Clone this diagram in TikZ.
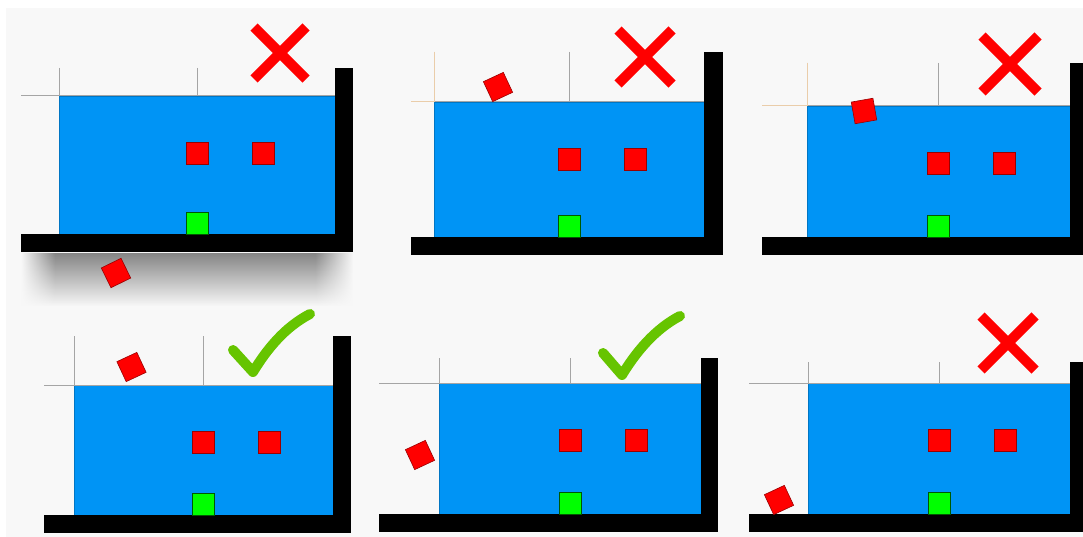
\documentclass[tikz,border=0pt]{standalone}
\usetikzlibrary{fadings}
\definecolor{bg}{HTML}{F8F8F8}
\definecolor{water}{RGB}{0,148,245}
\definecolor{redsq}{RGB}{255,0,0}
\definecolor{greensq}{RGB}{0,255,0}
\definecolor{okgreen}{RGB}{102,196,0}
\definecolor{guide}{RGB}{165,165,165}
\definecolor{tanline}{RGB}{234,205,170}
\tikzfading[name=fadedown, top color=transparent!0, middle color=transparent!65, bottom color=transparent!100]
\tikzfading[name=fadetoright, left color=transparent!0, right color=transparent!100]
\tikzfading[name=fadetoleft, left color=transparent!100, right color=transparent!0]
\tikzset{
  waterbox/.style={fill=water, draw=water!80!black, line width=0.5pt},
  guideline/.style={draw=guide, line width=1pt},
  tanguide/.style={draw=tanline, line width=1pt},
  sq/.style={minimum size=22pt, inner sep=0pt, outer sep=0pt, line width=0.6pt},
  redbox/.style={sq, fill=redsq, draw=red!60!black},
  greenbox/.style={sq, fill=greensq, draw=green!35!black},
  cross/.style={draw=redsq, line width=10pt},
  tick/.style={draw=okgreen, line width=10pt, line cap=round, line join=round},
}
% #1 name, #2 floor left, #3 water left, #4 water right, #5 water top,
% #6 water bottom, #7 wall right, #8 wall top, #9 centre column x
\newcommand\tankpanel[9]{%
  \path[waterbox] (#3,#5) rectangle (#4,#6);
  \draw[guideline] (#2,#5) -- (#4,#5);
  \draw[guideline] (#3,#8) -- (#3,#5);
  \draw[guideline] (#9,#8) -- (#9,#5);
  \fill[black] (#2,#6) rectangle (#7,{#6+18});
  \fill[black] (#4,#8) rectangle (#7,{#6+18});
  \node[redbox] (#1-r1) at (#9,{#5+57}) {};
  \node[redbox] (#1-r2) at ({#9+66},{#5+57}) {};
  \node[greenbox, anchor=south] (#1-g) at (#9,#6) {};
}
\begin{document}
\begin{tikzpicture}[x=1pt,y=-1pt]
\useasboundingbox (0,0) rectangle (1083,537);
\fill[white] (0,0) rectangle (1083,537);
\fill[bg] (6,8) rectangle (1083,537);

% shadow under first panel
\fill[black!48, path fading=fadedown] (21,253) rectangle (353,306);
\fill[bg, path fading=fadetoright] (21,253) rectangle (55,306);
\fill[bg, path fading=fadetoleft] (315,253) rectangle (353,306);

% panels
\tankpanel{p1}{21}{59}{335}{96}{234}{353}{68}{197.5}
\tankpanel{p2}{411}{434}{704}{102}{237}{723}{52}{569.5}
\tankpanel{p3}{762}{807}{1070}{106}{237}{1083}{63}{938}
\tankpanel{p4}{44}{74}{333}{385}{515}{351}{336}{203}
\tankpanel{p5}{379}{439}{701}{383}{514}{718}{358}{570}
\tankpanel{p6}{749}{808}{1070}{383}{514}{1083}{362}{939}

% tan guide segments
\draw[tanguide] (411,102) -- (434,102) (434,52) -- (434,102);
\draw[tanguide] (762,106) -- (807,106) (807,63) -- (807,106);

% falling squares
\node[redbox, rotate=26] (p1-fall) at (116,273) {};
\node[redbox, rotate=25] (p2-fall) at (498,87) {};
\node[redbox, rotate=10] (p3-fall) at (864,111) {};
\node[redbox, rotate=25] (p4-fall) at (131.5,367) {};
\node[redbox, rotate=25] (p5-fall) at (420,455) {};
\node[redbox, rotate=25] (p6-fall) at (779,500) {};

% crosses
\draw[cross] (254,27) -- (306,79) (254,79) -- (306,27);
\draw[cross] (618,30) -- (672,84) (618,84) -- (672,30);
\draw[cross] (982,36) -- (1038,92) (982,92) -- (1038,36);
\draw[cross] (981,316) -- (1035,370) (981,370) -- (1035,316);

% ticks
\draw[tick] (233,350) -- (253,372) .. controls (267,349) and (285,327) .. (310,314);
\draw[tick] (603,353) -- (622,375) .. controls (636,352) and (655,329) .. (680,316);
\end{tikzpicture}
\end{document}
